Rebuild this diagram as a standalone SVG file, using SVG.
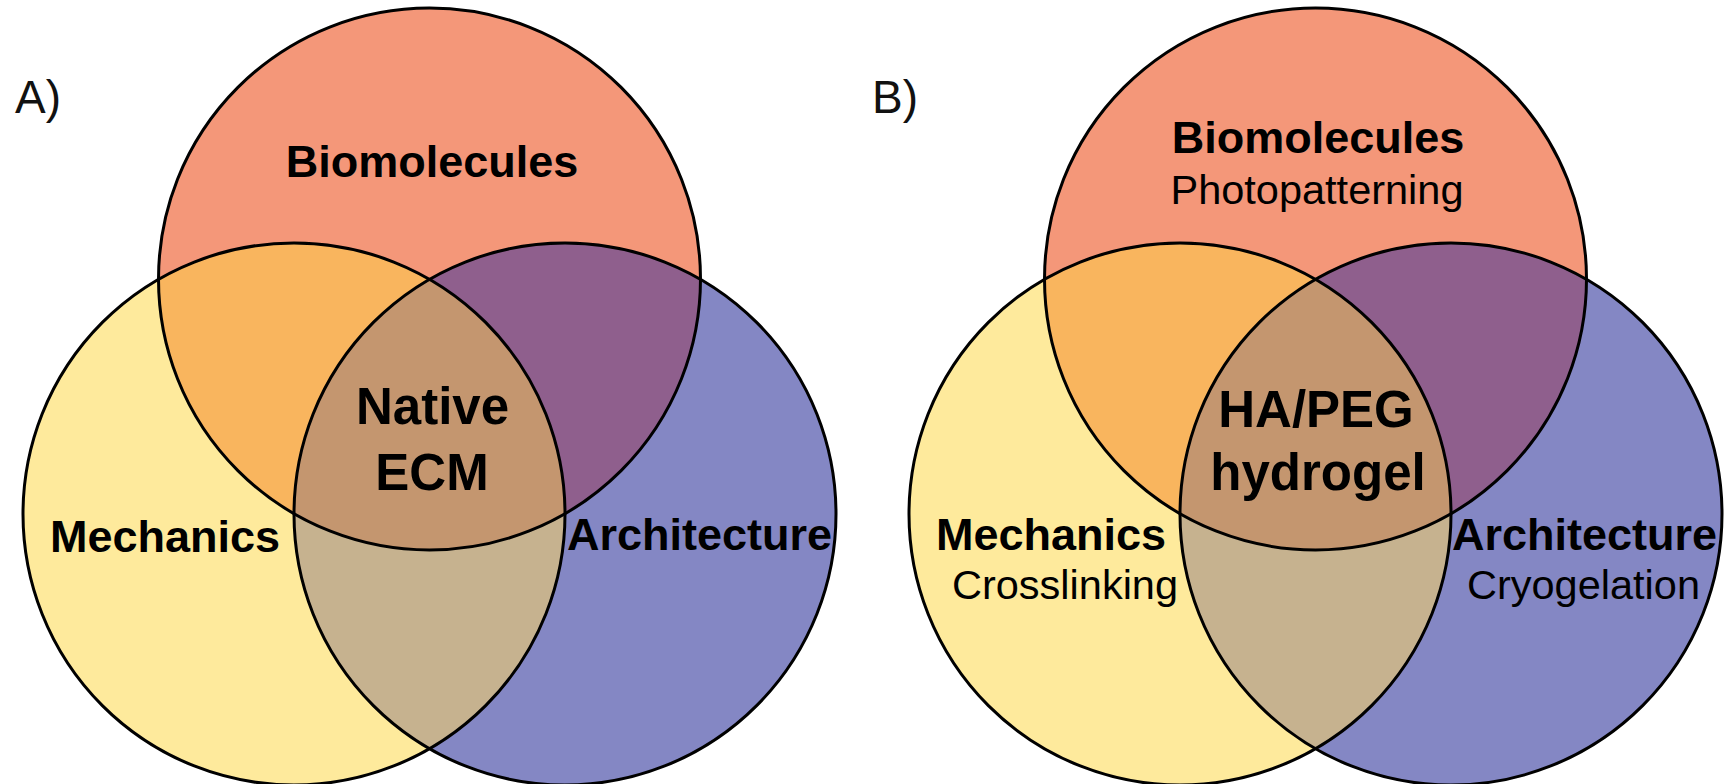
<svg xmlns="http://www.w3.org/2000/svg" width="1729" height="784" viewBox="0 0 1729 784">
<style>
.bg{fill:#ffffff}
.top{fill:#F49779}
.left{fill:#FEEA9C}
.right{fill:#8487C4}
.tl{fill:#F9B55E}
.tr{fill:#8F5F8D}
.lr{fill:#C6B28F}
.ctr{fill:#C4966F}
.ring{fill:none;stroke:#000000;stroke-width:3}
.lbl{font-family:"Liberation Sans",Arial,sans-serif;font-size:46px;fill:#111111}
.b{font-family:"Liberation Sans",Arial,sans-serif;font-weight:bold;font-size:45px;fill:#000000}
.big{font-family:"Liberation Sans",Arial,sans-serif;font-weight:bold;font-size:51px;fill:#000000}
.sub{font-family:"Liberation Sans",Arial,sans-serif;font-size:41.5px;fill:#000000}
.mid{text-anchor:middle}
</style>
<defs>
<clipPath id="cTopA"><circle cx="429.5" cy="279" r="271"/></clipPath>
<clipPath id="cLeftA"><circle cx="294" cy="514" r="271"/></clipPath>
<clipPath id="cTopB"><circle cx="1315.5" cy="279" r="271"/></clipPath>
<clipPath id="cLeftB"><circle cx="1180" cy="514" r="271"/></clipPath>
</defs>
<rect class="bg" x="0" y="0" width="1729" height="784"/>

<g id="panelA">
  <g id="A-biomolecules"><circle class="top" cx="429.5" cy="279" r="271"/></g>
  <g id="A-mechanics"><circle class="left" cx="294" cy="514" r="271"/></g>
  <g id="A-architecture"><circle class="right" cx="565" cy="514" r="271"/></g>
  <g id="A-bio-mech"><circle class="tl" cx="294" cy="514" r="271" clip-path="url(#cTopA)"/></g>
  <g id="A-bio-arch"><circle class="tr" cx="565" cy="514" r="271" clip-path="url(#cTopA)"/></g>
  <g id="A-mech-arch"><circle class="lr" cx="565" cy="514" r="271" clip-path="url(#cLeftA)"/></g>
  <g id="A-native-ecm">
    <g clip-path="url(#cTopA)"><circle class="ctr" cx="565" cy="514" r="271" clip-path="url(#cLeftA)"/></g>
  </g>
  <g id="A-outlines">
    <circle class="ring" cx="429.5" cy="279" r="271"/>
    <circle class="ring" cx="294" cy="514" r="271"/>
    <circle class="ring" cx="565" cy="514" r="271"/>
  </g>
  <text class="lbl" x="15" y="113">A)</text>
  <text class="b mid" x="432" y="177">Biomolecules</text>
  <text class="big mid" x="432.5" y="424">Native</text>
  <text class="big mid" x="432" y="490">ECM</text>
  <text class="b" x="50" y="552">Mechanics</text>
  <text class="b" x="567" y="550">Architecture</text>
</g>

<g id="panelB">
  <g id="B-biomolecules"><circle class="top" cx="1315.5" cy="279" r="271"/></g>
  <g id="B-mechanics"><circle class="left" cx="1180" cy="514" r="271"/></g>
  <g id="B-architecture"><circle class="right" cx="1451" cy="514" r="271"/></g>
  <g id="B-bio-mech"><circle class="tl" cx="1180" cy="514" r="271" clip-path="url(#cTopB)"/></g>
  <g id="B-bio-arch"><circle class="tr" cx="1451" cy="514" r="271" clip-path="url(#cTopB)"/></g>
  <g id="B-mech-arch"><circle class="lr" cx="1451" cy="514" r="271" clip-path="url(#cLeftB)"/></g>
  <g id="B-hydrogel">
    <g clip-path="url(#cTopB)"><circle class="ctr" cx="1451" cy="514" r="271" clip-path="url(#cLeftB)"/></g>
  </g>
  <g id="B-outlines">
    <circle class="ring" cx="1315.5" cy="279" r="271"/>
    <circle class="ring" cx="1180" cy="514" r="271"/>
    <circle class="ring" cx="1451" cy="514" r="271"/>
  </g>
  <text class="lbl" x="872" y="113">B)</text>
  <text class="b mid" x="1318" y="153">Biomolecules</text>
  <text class="sub mid" x="1317" y="204">Photopatterning</text>
  <text class="big mid" x="1316" y="427">HA/PEG</text>
  <text class="big mid" x="1318" y="490">hydrogel</text>
  <text class="b" x="936" y="550">Mechanics</text>
  <text class="sub" x="952" y="599">Crosslinking</text>
  <text class="b" x="1452" y="550">Architecture</text>
  <text class="sub" x="1467" y="599">Cryogelation</text>
</g>
</svg>
